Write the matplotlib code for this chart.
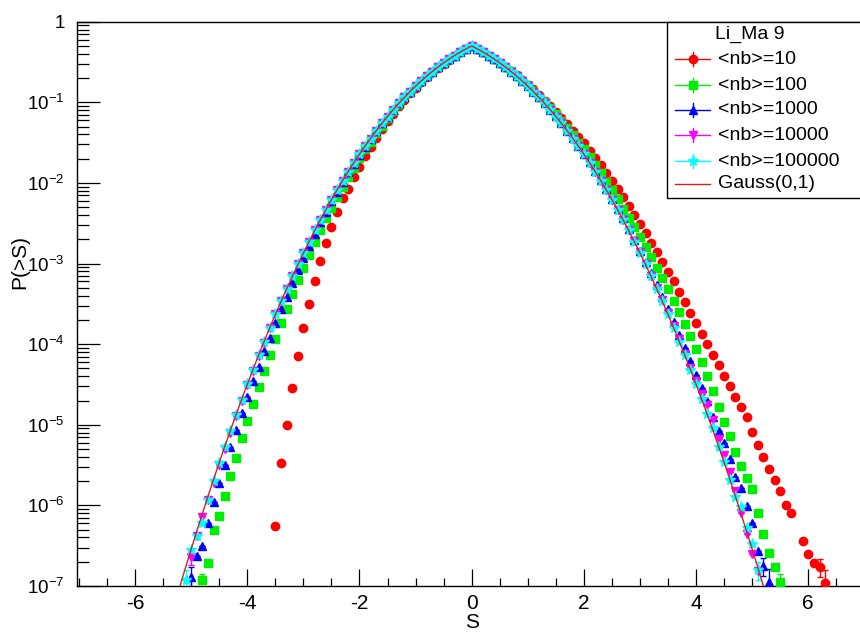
import math
import numpy as np
import matplotlib
matplotlib.use("Agg")
import matplotlib.pyplot as plt
from matplotlib.lines import Line2D
from matplotlib.patches import Rectangle
from matplotlib.ticker import FixedLocator, FuncFormatter, NullFormatter

plt.rcParams["font.family"] = ["Liberation Sans", "DejaVu Sans"]
plt.rcParams["mathtext.fontset"] = "custom"
plt.rcParams["mathtext.rm"] = "Liberation Sans"
plt.rcParams["mathtext.it"] = "Liberation Sans:italic"
plt.rcParams["axes.unicode_minus"] = False

# significance bins (bin centres, step 0.1)
S = np.round(np.arange(-5.2, 6.31, 0.1), 1)
nan = np.nan

# log10 P(>S) (P(<S) for S<0) for each mean background <nb>
lg_nb10 = [
    nan, nan, nan, nan, nan, nan, nan, nan, nan, nan,
    nan, nan, nan, nan, nan, nan, nan, -6.26, -5.48, -5.00,
    -4.55, -4.15, -3.80, -3.50, -3.22, -2.97, -2.75, -2.55, -2.36, -2.19,
    -2.08, -1.93, -1.80, -1.67, -1.55, -1.44, -1.33, -1.23, -1.14, -1.05,
    -0.97, -0.89, -0.82, -0.75, -0.69, -0.63, -0.57, -0.52, -0.47, -0.42,
    -0.38, -0.34, -0.30, -0.34, -0.38, -0.42, -0.46, -0.51, -0.56, -0.61,
    -0.66, -0.72, -0.78, -0.84, -0.91, -0.98, -1.05, -1.12, -1.19, -1.27,
    -1.35, -1.43, -1.51, -1.60, -1.69, -1.78, -1.88, -1.98, -2.08, -2.18,
    -2.29, -2.40, -2.51, -2.62, -2.74, -2.86, -2.98, -3.10, -3.22, -3.35,
    -3.48, -3.61, -3.74, -3.87, -4.00, -4.13, -4.26, -4.39, -4.52, -4.65,
    -4.78, -4.90, -5.09, -5.25, -5.40, -5.55, -5.69, -5.82, -5.99, -6.10,
    nan, -6.44, -6.60, -6.72, -6.76, -6.96,
]
lg_nb100 = [
    nan, nan, nan, nan, -6.93, -6.72, -6.31, -6.13, -5.88, -5.64,
    -5.41, -5.17, -4.95, -4.74, -4.53, -4.33, -4.13, -3.93, -3.74, -3.57,
    -3.38, -3.21, -3.05, -2.89, -2.73, -2.59, -2.44, -2.31, -2.18, -2.05,
    -1.93, -1.81, -1.69, -1.58, -1.49, -1.38, -1.29, -1.20, -1.11, -1.02,
    -0.94, -0.87, -0.80, -0.74, -0.67, -0.62, -0.56, -0.51, -0.46, -0.42,
    -0.38, -0.34, -0.30, -0.34, -0.38, -0.42, -0.46, -0.51, -0.56, -0.61,
    -0.67, -0.73, -0.79, -0.86, -0.93, -1.00, -1.07, -1.15, -1.23, -1.32,
    -1.41, -1.50, -1.58, -1.68, -1.78, -1.88, -1.99, -2.09, -2.20, -2.32,
    -2.43, -2.55, -2.67, -2.79, -2.92, -3.05, -3.18, -3.32, -3.46, -3.60,
    -3.75, -3.90, -4.06, -4.22, -4.40, -4.58, -4.78, -4.96, -5.14, -5.34,
    -5.51, -5.66, -5.80, -6.10, -6.36, -6.59, -6.76, -6.95, nan, nan,
    nan, nan, nan, nan, nan, nan,
]
lg_nb1000 = [
    nan, nan, -6.89, -6.63, -6.50, -6.22, -5.96, -5.72, -5.50, -5.28,
    -5.06, -4.86, -4.66, -4.46, -4.28, -4.09, -3.92, -3.74, -3.57, -3.41,
    -3.24, -3.08, -2.93, -2.78, -2.63, -2.49, -2.36, -2.23, -2.11, -1.99,
    -1.87, -1.76, -1.65, -1.55, -1.45, -1.35, -1.26, -1.18, -1.09, -1.01,
    -0.94, -0.87, -0.80, -0.74, -0.67, -0.62, -0.56, -0.51, -0.46, -0.42,
    -0.38, -0.34, -0.30, -0.34, -0.38, -0.42, -0.46, -0.51, -0.56, -0.62,
    -0.67, -0.74, -0.80, -0.87, -0.94, -1.01, -1.09, -1.17, -1.26, -1.35,
    -1.44, -1.54, -1.64, -1.74, -1.85, -1.96, -2.08, -2.20, -2.32, -2.44,
    -2.57, -2.71, -2.84, -2.98, -3.12, -3.27, -3.42, -3.57, -3.73, -3.89,
    -4.05, -4.21, -4.38, -4.54, -4.71, -4.90, -5.08, -5.23, -5.43, -5.65,
    -5.78, -6.01, -6.22, -6.56, -6.75, -6.95, nan, nan, nan, nan,
    nan, nan, nan, nan, nan, nan,
]
lg_nb10000 = [
    nan, nan, -6.64, -6.38, -6.14, -5.93, -5.72, -5.50, -5.30, -5.10,
    -4.89, -4.70, -4.51, -4.33, -4.15, -3.98, -3.80, -3.63, -3.47, -3.32,
    -3.16, -3.01, -2.87, -2.73, -2.59, -2.46, -2.33, -2.21, -2.09, -1.97,
    -1.86, -1.75, -1.64, -1.54, -1.45, -1.35, -1.26, -1.18, -1.09, -1.01,
    -0.94, -0.87, -0.80, -0.74, -0.67, -0.62, -0.56, -0.51, -0.46, -0.42,
    -0.38, -0.34, -0.30, -0.34, -0.38, -0.42, -0.46, -0.51, -0.56, -0.62,
    -0.67, -0.74, -0.80, -0.87, -0.94, -1.01, -1.09, -1.18, -1.26, -1.35,
    -1.45, -1.54, -1.64, -1.75, -1.86, -1.97, -2.09, -2.21, -2.33, -2.46,
    -2.59, -2.72, -2.86, -3.00, -3.15, -3.30, -3.45, -3.61, -3.77, -3.94,
    -4.12, -4.29, -4.46, -4.62, -4.76, -4.94, -5.18, -5.38, -5.58, -5.82,
    -6.09, -6.35, -6.60, -6.81, nan, nan, nan, nan, nan, nan,
    nan, nan, nan, nan, nan, nan,
]
lg_nb100000 = [
    nan, -6.92, -6.55, -6.38, -6.22, -5.93, -5.70, -5.48, -5.28, -5.08,
    -4.88, -4.69, -4.50, -4.32, -4.14, -3.97, -3.80, -3.63, -3.47, -3.32,
    -3.16, -3.01, -2.87, -2.73, -2.59, -2.46, -2.33, -2.21, -2.09, -1.97,
    -1.86, -1.75, -1.64, -1.54, -1.45, -1.35, -1.26, -1.18, -1.09, -1.01,
    -0.94, -0.87, -0.80, -0.74, -0.67, -0.62, -0.56, -0.51, -0.46, -0.42,
    -0.38, -0.34, -0.30, -0.34, -0.38, -0.42, -0.46, -0.51, -0.56, -0.62,
    -0.67, -0.74, -0.80, -0.87, -0.94, -1.01, -1.09, -1.18, -1.26, -1.35,
    -1.45, -1.54, -1.64, -1.75, -1.86, -1.97, -2.09, -2.21, -2.33, -2.46,
    -2.59, -2.73, -2.87, -3.01, -3.16, -3.32, -3.47, -3.63, -3.80, -3.97,
    -4.14, -4.32, -4.50, -4.68, -4.87, -5.04, -5.27, -5.46, -5.69, -5.89,
    -6.02, -6.28, -6.48, -6.80, nan, nan, nan, nan, nan, nan,
    nan, nan, nan, nan, nan, nan,
]

# relative statistical errors on the sparsely populated tail bins
err_nb10 = {6.2: 0.25, 6.3: 0.45}
err_nb100 = {-4.8: 0.2, 5.5: 0.25}
err_nb1000 = {-5.0: 0.35, 5.2: 0.25, 5.3: 0.45}
err_nb10000 = {-5.0: 0.2}
err_nb100000 = {-5.1: 0.3, 5.1: 0.25}

labels = ["<nb>=10", "<nb>=100", "<nb>=1000", "<nb>=10000", "<nb>=100000"]
colors = ["#ff0000", "#00ee00", "#0000ff", "#ff00ff", "#00ffff"]
markers = ["o", "s", "^", "v", "*"]
msizes = [6.0, 6.2, 6.0, 6.0, 8.0]
series = [lg_nb10, lg_nb100, lg_nb1000, lg_nb10000, lg_nb100000]
errors = [err_nb10, err_nb100, err_nb1000, err_nb10000, err_nb100000]
y_decades = [-7, -6, -5, -4, -3, -2, -1, 0]

W, H = 860, 634
fig = plt.figure(figsize=(W / 100, H / 100), dpi=100)
L, R, T, B = 77.3, 862.0, 21.7, 586.0
ax = fig.add_axes([L / W, 1 - B / H, (R - L) / W, (B - T) / H])

for lg, err, c, m, ms in zip(series, errors, colors, markers, msizes):
    lg = np.asarray(lg, dtype=float)
    ok = ~np.isnan(lg)
    x = S[ok]
    y = 10.0 ** lg[ok]
    rel = np.array([err.get(float(v), 0.0) for v in x])
    yerr = np.vstack([y * np.minimum(rel, 0.9), y * rel])
    ax.errorbar(x, y, yerr=yerr, fmt=m, color=c, ms=ms, mec=c, mfc=c,
                elinewidth=1.0, capsize=2.5, capthick=1.0, lw=0, zorder=3)

# reference standard normal tail
sg = np.linspace(-5.3, 5.3, 400)
pg = np.array([0.5 * math.erfc(abs(v) / math.sqrt(2.0)) for v in sg])
ax.plot(sg, pg, color="#d42020", lw=1.0, zorder=4)

ax.set_yscale("log")
ax.set_xlim(-7.03, (R - 471.7) / 56.1)
ax.set_ylim(1e-7, 1.0)

ax.xaxis.set_major_locator(FixedLocator([-6, -4, -2, 0, 2, 4, 6]))
ax.xaxis.set_minor_locator(FixedLocator(np.arange(-7.0, 7.01, 0.5)))
ax.yaxis.set_major_locator(FixedLocator([10.0 ** e for e in y_decades]))
ax.yaxis.set_minor_locator(FixedLocator(
    [k * 10.0 ** e for e in y_decades[:-1] for k in range(2, 10)]))
ax.yaxis.set_minor_formatter(NullFormatter())


def ylab(v, pos):
    e = int(round(math.log10(v)))
    if e == 0:
        return "1"
    return r"$\mathregular{10^{%d}}$" % e


ax.yaxis.set_major_formatter(FuncFormatter(ylab))
ax.xaxis.set_major_formatter(FuncFormatter(lambda v, p: "%d" % v))

ax.tick_params(axis="x", which="major", direction="in", length=12, width=0.9,
               labelsize=15, pad=6, top=False)
ax.tick_params(axis="x", which="minor", direction="in", length=6, width=0.9, top=False)
ax.tick_params(axis="y", which="major", direction="in", length=16.5, width=0.9,
               labelsize=13.5, pad=9, right=False)
ax.tick_params(axis="y", which="minor", direction="in", length=8.5, width=0.9, right=False)
for sp in ax.spines.values():
    sp.set_linewidth(1.0)

ax.set_xlabel("S", fontsize=15, va="center")
ax.xaxis.set_label_coords((472 - L) / (R - L), -(622 - B) / (B - T))
ax.set_ylabel("P(>S)", fontsize=15, va="center", ha="center")
ax.yaxis.set_label_coords((20 - L) / (R - L), (B - 262) / (B - T))


# legend box in pixel coordinates
def fx(px):
    return px / W


def fy(py):
    return 1 - py / H


box = Rectangle((fx(667), fy(198)), fx(862) - fx(667), fy(21.7) - fy(198),
                transform=fig.transFigure, facecolor="white", edgecolor="black",
                lw=1.0, zorder=10)
fig.add_artist(box)
fig.text(fx(750), fy(34), "Li_Ma 9", fontsize=14, ha="center", va="center", zorder=11)
rows_y = [59, 85, 110, 135, 161, 184]
for yy, lab, c, m, ms in zip(rows_y, labels, colors, markers, msizes):
    fig.add_artist(Line2D([fx(675), fx(710)], [fy(yy), fy(yy)], transform=fig.transFigure,
                          color=c, lw=1.0, zorder=11))
    fig.add_artist(Line2D([fx(692.5), fx(692.5)], [fy(yy - 7), fy(yy + 7)],
                          transform=fig.transFigure, color=c, lw=1.0, zorder=11))
    fig.add_artist(Line2D([fx(692.5)], [fy(yy)], transform=fig.transFigure, color=c,
                          marker=m, ms=ms, mec=c, mfc=c, lw=0, zorder=12))
    fig.text(fx(718), fy(yy), lab, fontsize=14, ha="left", va="center", zorder=12)
yy = rows_y[-1]
fig.add_artist(Line2D([fx(675), fx(710)], [fy(yy), fy(yy)], transform=fig.transFigure,
                      color="#d42020", lw=1.0, zorder=11))
fig.text(fx(718), fy(yy), "Gauss(0,1)", fontsize=14, ha="left", va="center", zorder=12)

fig.savefig("out.png", dpi=100)
